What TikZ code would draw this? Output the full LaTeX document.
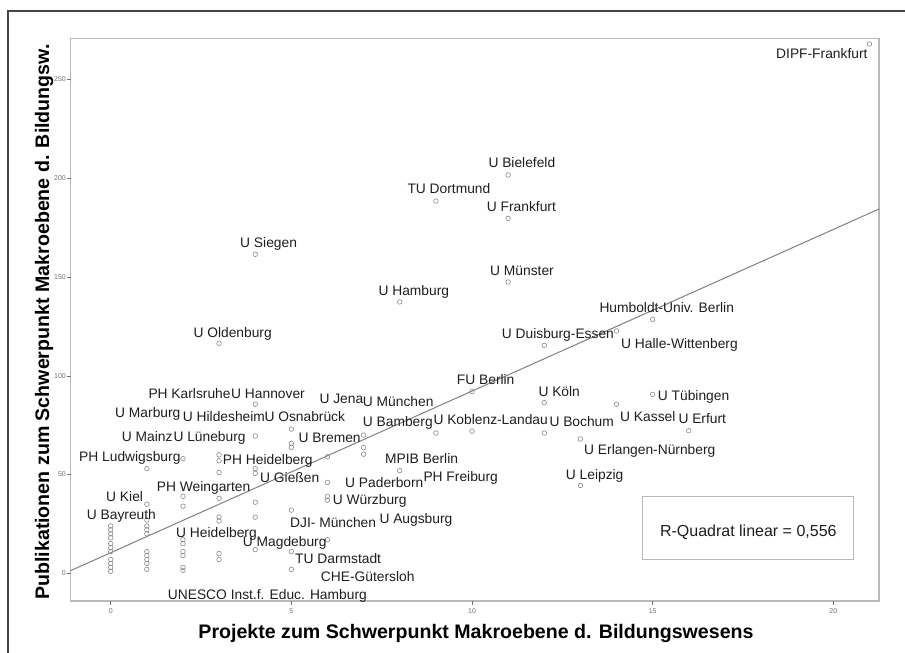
\documentclass[tikz,border=0pt]{standalone}
\usepackage{fontspec}
\setmainfont{Liberation Sans}
\definecolor{framegray}{HTML}{444444}
\definecolor{plotborder}{HTML}{B8B8B8}
\definecolor{markgray}{HTML}{8A8A8A}
\definecolor{fitgray}{HTML}{808080}
\definecolor{txtgray}{HTML}{1E1E1E}
\definecolor{tickgray}{HTML}{707070}
\begin{document}
\begin{tikzpicture}[x=1pt,y=-1pt,
  lbl/.style={anchor=base west,inner sep=0pt,text=txtgray,font=\fontsize{13.8}{16}\selectfont},
  dotmark/.style={draw=markgray,line width=0.6pt},
  axtitle/.style={inner sep=0pt,text=black,font=\fontsize{19.6}{22}\selectfont\bfseries},
  ticklbl/.style={inner sep=0pt,text=tickgray,font=\fontsize{7}{8}\selectfont},
  tickmark/.style={draw=tickgray,line width=0.5pt}]
\useasboundingbox (0,0) rectangle (905,653);
% outer frame
\draw[framegray,line width=1.5pt] (8,653) -- (8,11) -- (905,11);
% plot frame
\draw[plotborder,line width=1.3pt] (70.5,38.3) rectangle (879,601);
% y ticks
\foreach \v in {0,50,100,150,200,250}{
  \draw[tickmark] (66.5,{573.3-1.975*\v}) -- (70.5,{573.3-1.975*\v});
  \node[ticklbl,anchor=east] (yt\v) at (66,{573.3-1.975*\v}) {\v};
}
% x ticks
\foreach \k in {0,5,10,15,20}{
  \draw[tickmark] ({110.7+36.13*\k},601) -- ({110.7+36.13*\k},604.5);
  \node[ticklbl,anchor=center] (xt\k) at ({110.7+36.13*\k},611) {\k};
}
% regression line
\coordinate (fitA) at (70.5,570.7);
\coordinate (fitB) at (879,209);
\draw[fitgray,line width=1pt] (fitA) -- (fitB);
% data points
\begin{scope}[shift={(110.7pt,-573.3pt)},x=36.13pt,y=1.975pt]
\foreach \px/\py in {0/1,0/3,0/5,0/7,0/11,0/13,0/15,0/18,0/20,0/22,0/24,
  1/2,1/5,1/7,1/9,1/11,1/20,1/22,1/24,1/27,1/35,1/53,
  2/1.5,2/3,2/9,2/11,2/15,2/17,2/34,2/39,2/58,
  3/7,3/10,3/26.5,3/28.5,3/38,3/51,3/57,3/60,3/116.5,
  4/12,4/28.4,4/36,4/50.6,4/53,4/69.5,4/85.6,4/161.5,
  5/2,5/11,5/32,5/63.8,5/65.8,5/73,
  6/17,6/37,6/39,6/46,6/59,
  7/60.3,7/63.6,7/70,
  8/52,8/137.4,
  9/71,9/188.5,
  10/72,10/92,
  11/147.5,11/179.7,11/201.7,
  12/71,12/86.4,12/115.4,
  13/44.5,13/68,
  14/85.6,14/122.7,
  15/90.6,15/128.6,
  16/72.2,
  21/268}
  \draw[dotmark] (\px,\py) circle (2.3pt);
\end{scope}
% point labels
\node[lbl] (l01) at (776,58.8) {DIPF-Frankfurt};
\node[lbl] (l02) at (488.3,167.8) {U Bielefeld};
\node[lbl] (l03) at (407.3,193.5) {TU Dortmund};
\node[lbl] (l04) at (486.7,211.8) {U Frankfurt};
\node[lbl] (l05) at (240,247.8) {U Siegen};
\node[lbl] (l06) at (490,275.2) {U Münster};
\node[lbl] (l07) at (378.3,295.2) {U Hamburg};
\node[lbl] (l08) at (599.3,312.8) {Humboldt-Univ. Berlin};
\node[lbl] (l09) at (193.3,337.2) {U Oldenburg};
\node[lbl] (l10) at (501.7,338.5) {U Duisburg-Essen};
\node[lbl] (l11) at (621,348.5) {U Halle-Wittenberg};
\node[lbl] (l12) at (456.7,384.5) {FU Berlin};
\node[lbl] (l13) at (538.3,396.2) {U Köln};
\node[lbl] (l14) at (148.3,398.8) {PH Karlsruhe};
\node[lbl] (l15) at (231,398.8) {U Hannover};
\node[lbl] (l16) at (657.7,400.5) {U Tübingen};
\node[lbl] (l17) at (319.3,403.8) {U Jena};
\node[lbl] (l18) at (362.7,406.2) {U München};
\node[lbl] (l19) at (115,417.8) {U Marburg};
\node[lbl] (l20) at (182.7,421.2) {U Hildesheim};
\node[lbl] (l21) at (264.3,421.8) {U Osnabrück};
\node[lbl] (l22) at (620,421.8) {U Kassel};
\node[lbl] (l23) at (678.3,423.8) {U Erfurt};
\node[lbl] (l24) at (433.3,424.5) {U Koblenz-Landau};
\node[lbl] (l25) at (362.7,426.2) {U Bamberg};
\node[lbl] (l26) at (549.3,426.8) {U Bochum};
\node[lbl] (l27) at (121.7,441.8) {U Mainz};
\node[lbl] (l28) at (173.3,441.8) {U Lüneburg};
\node[lbl] (l29) at (298.3,442.8) {U Bremen};
\node[lbl] (l30) at (584,454.5) {U Erlangen-Nürnberg};
\node[lbl] (l31) at (79,461.2) {PH Ludwigsburg};
\node[lbl] (l32) at (385,463.8) {MPIB Berlin};
\node[lbl] (l33) at (222.7,464.5) {PH Heidelberg};
\node[lbl] (l34) at (565.7,479.5) {U Leipzig};
\node[lbl] (l35) at (423.3,481.8) {PH Freiburg};
\node[lbl] (l36) at (260,482.8) {U Gießen};
\node[lbl] (l37) at (345,487.2) {U Paderborn};
\node[lbl] (l38) at (156.7,491.2) {PH Weingarten};
\node[lbl] (l39) at (106,501.8) {U Kiel};
\node[lbl] (l40) at (332.7,504.5) {U Würzburg};
\node[lbl] (l41) at (86.7,519.5) {U Bayreuth};
\node[lbl] (l42) at (379.3,523.5) {U Augsburg};
\node[lbl] (l43) at (290,527.8) {DJI- München};
\node[lbl] (l44) at (176,537.2) {U Heidelberg};
\node[lbl] (l45) at (242.7,546.2) {U Magdeburg};
\node[lbl] (l46) at (295,563.5) {TU Darmstadt};
\node[lbl] (l47) at (320.7,581.8) {CHE-Gütersloh};
\node[lbl] (l48) at (167.7,599.5) {UNESCO Inst.f. Educ. Hamburg};
% R-squared box
\draw[plotborder,line width=1pt] (642.7,496) rectangle (853.3,559);
\node[inner sep=0pt,anchor=base,text=txtgray,font=\fontsize{16}{18}\selectfont] (rsq) at (748.3,536.3) {R-Quadrat linear = 0,556};
% axis titles
\node[axtitle,anchor=base] (xtitle) at (476,638) {Projekte zum Schwerpunkt Makroebene d. Bildungswesens};
\node[axtitle,anchor=base,rotate=90] (ytitle) at (49,322) {Publikationen zum Schwerpunkt Makroebene d. Bildungsw.};
\end{tikzpicture}
\end{document}
